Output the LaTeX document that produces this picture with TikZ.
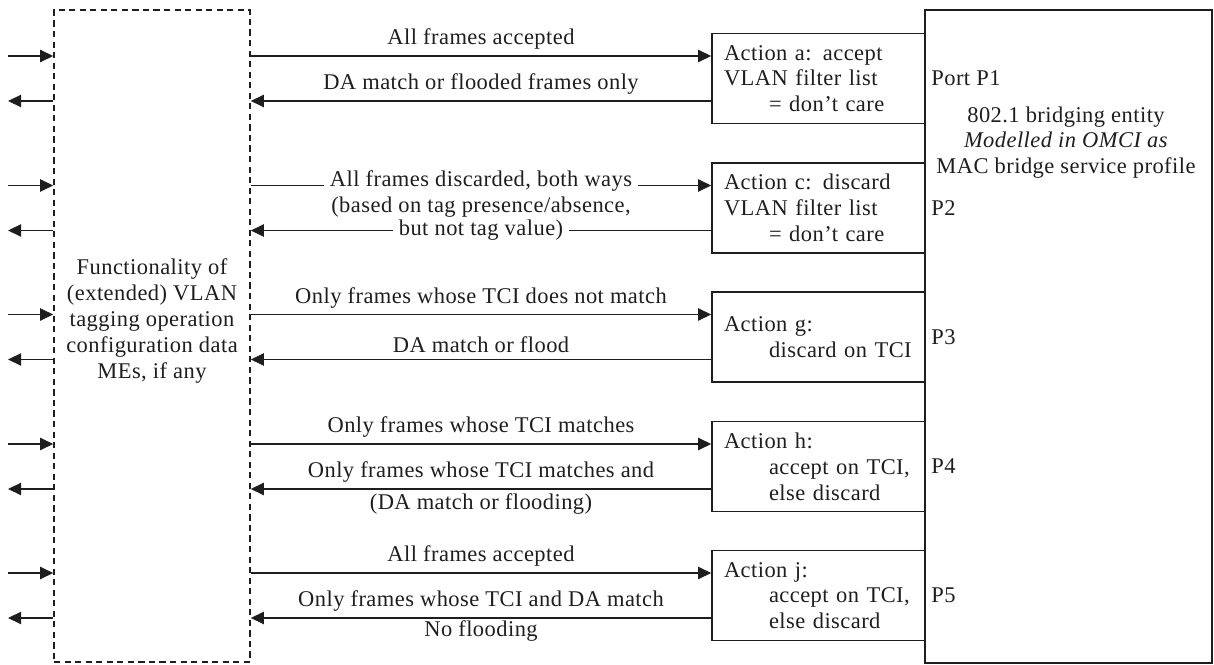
\documentclass[tikz,border=0pt]{standalone}
\usepackage{fontspec}
\setmainfont{Liberation Serif}[LetterSpace=2]
\usepackage{tikz}
\usetikzlibrary{positioning,arrows.meta,calc}
\definecolor{ink}{HTML}{1E1E1E}

\tikzset{
	actbox/.style={draw=ink, line width=0.9pt, align=left, text width=3.78cm, inner xsep=0.24cm, minimum height=1.8cm},
	flow/.style={-{Triangle[length=7.5pt,width=7pt]}, line width=0.9pt, draw=ink},
	portlbl/.style={inner xsep=3pt}
}

\begin{document}
\begin{tikzpicture}[x=0.02cm, y=-0.02cm,
	every node/.style={text=ink, font=\fontsize{12.8}{14.7}\selectfont}]
	
	\useasboundingbox (0,0) rectangle (1214,665);
	
	% tagging block (dashed) and bridge
	\node[draw=ink, line width=0.9pt, dash pattern=on 3.5pt off 2.5pt, minimum width=3.92cm, minimum height=13.04cm] (vlan) at (152,336) {};
	\node[align=center] (vlantxt) at (152,321) {Functionality of\\(extended) VLAN\\tagging operation\\configuration data\\MEs, if any};
	
	\node[draw=ink, line width=0.9pt, minimum width=5.74cm, minimum height=13.06cm] (bridge) at (1068.5,336.5) {};
	\node[align=center] (bridgetxt) at (1066,142.5) {802.1 bridging entity\\\textit{Modelled in OMCI as}\\MAC bridge service profile};
	
	% filter actions
	\node[actbox] (acta) at (818.5,78.5) {Action a: accept\\VLAN filter list\\\hspace*{2em}= don't care};
	\node[actbox] (actc) at (818.5,208) {Action c: discard\\VLAN filter list\\\hspace*{2em}= don't care};
	\node[actbox] (actg) at (818.5,337) {Action g:\\\hspace*{2em}discard on TCI};
	\node[actbox] (acth) at (818.5,466.5) {Action h:\\\hspace*{2em}accept on TCI,\\\hspace*{2em}else discard};
	\node[actbox] (actj) at (818.5,595.5) {Action j:\\\hspace*{2em}accept on TCI,\\\hspace*{2em}else discard};
	
	% ports
	\node[portlbl, right=0cm of acta.east] (p1) {Port P1};
	\node[portlbl, right=0cm of actc.east] (p2) {P2};
	\node[portlbl, right=0cm of actg.east] (p3) {P3};
	\node[portlbl, right=0cm of acth.east] (p4) {P4};
	\node[portlbl, right=0cm of actj.east] (p5) {P5};
	
	\foreach \r in {a,c,g,h,j}{
		\coordinate (in-\r) at ([yshift=0.45cm]act\r.west);
		\coordinate (out-\r) at ([yshift=-0.45cm]act\r.west);
	}
	\coordinate (ext) at (8,0);
	
	% outer side
	\foreach \r in {a,c,g,h,j}{
		\draw[flow] (ext |- in-\r) -- (vlan.west |- in-\r);
		\draw[flow] (vlan.west |- out-\r) -- (ext |- out-\r);
	}
	
	% P1
	\draw[flow] (vlan.east |- in-a) -- node[above] (fa1) {All frames accepted} (in-a);
	\draw[flow] (out-a) -- node[above] (fa2) {DA match or flooded frames only} (vlan.east |- out-a);
	
	% P2
	\draw[flow] (vlan.east |- in-c) -- node[fill=white, yshift=2.5pt] (fc1) {All frames discarded, both ways} (in-c);
	\draw[flow] (out-c) -- node[fill=white] (fc3) {but not tag value)} (vlan.east |- out-c);
	\node (fc2) at (481,207) {(based on tag presence/absence,};
	
	% P3
	\draw[flow] (vlan.east |- in-g) -- node[above] (fg1) {Only frames whose TCI does not match} (in-g);
	\draw[flow] (out-g) -- node[above] (fg2) {DA match or flood} (vlan.east |- out-g);
	
	% P4
	\draw[flow] (vlan.east |- in-h) -- node[above] (fh1) {Only frames whose TCI matches} (in-h);
	\draw[flow] (out-h) -- node[above] (fh2) {Only frames whose TCI matches and}
		node[below, inner ysep=2pt] (fh3) {(DA match or flooding)} (vlan.east |- out-h);
	
	% P5
	\draw[flow] (vlan.east |- in-j) -- node[above] (fj1) {All frames accepted} (in-j);
	\draw[flow] (out-j) -- node[above] (fj2) {Only frames whose TCI and DA match}
		node[below, inner ysep=1pt] (fj3) {No flooding} (vlan.east |- out-j);
	
\end{tikzpicture}
\end{document}
